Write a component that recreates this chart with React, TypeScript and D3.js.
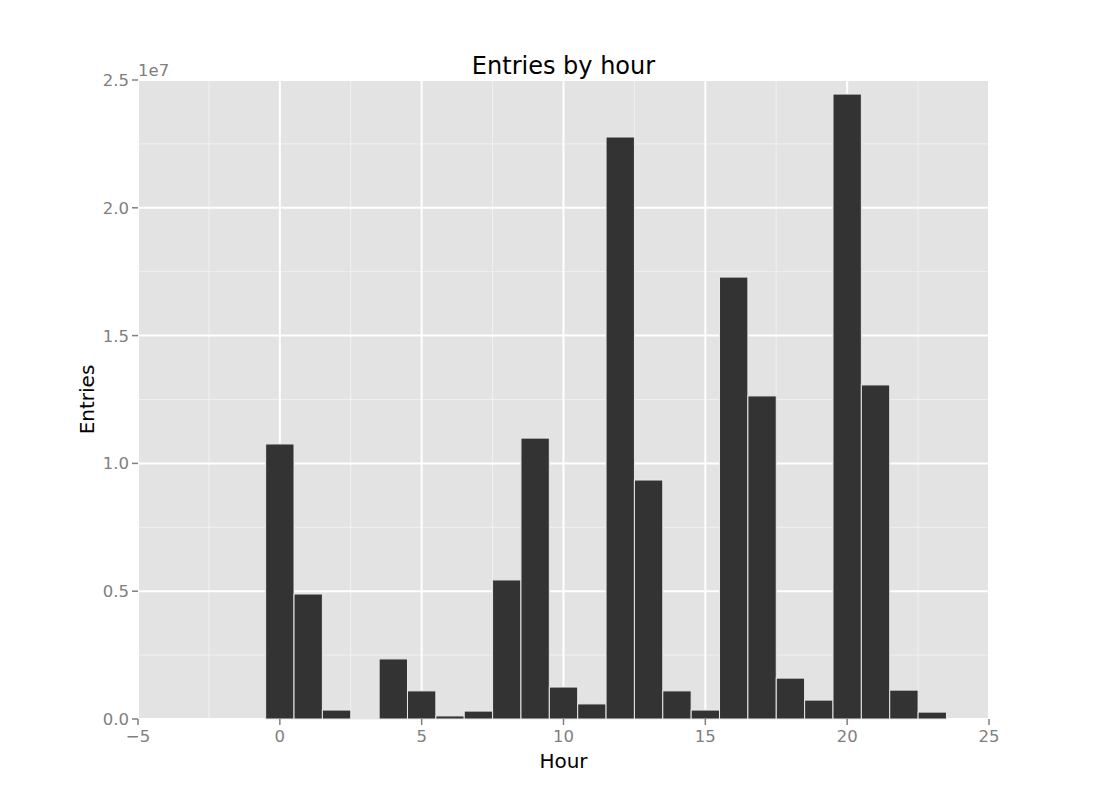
import React from "react";
import * as d3 from "d3";

const hours = [0,1,2,3,4,5,6,7,8,9,10,11,12,13,14,15,16,17,18,19,20,21,22,23];
const entries = [10760000,4890000,350000,40000,2350000,1100000,120000,310000,5440000,10990000,1250000,590000,22770000,9350000,1100000,350000,17290000,12640000,1600000,740000,24450000,13070000,1130000,270000];
const xTicks = [-5,0,5,10,15,20,25];
const yTicks = [0,5e6,1e7,1.5e7,2e7,2.5e7];
const yTickLabels = ["0.0","0.5","1.0","1.5","2.0","2.5"];

export default function App() {
  const W = 1100, H = 800;
  const left = 138, right = 989, top = 80, bottom = 719;
  const x = d3.scaleLinear().domain([-5, 25]).range([left, right]);
  const y = d3.scaleLinear().domain([0, 2.5e7]).range([bottom, top]);
  const xMinor = xTicks.slice(0, -1).map(t => t + 2.5);
  const yMinor = yTicks.slice(0, -1).map(t => t + 2.5e6);
  const font = "DejaVu Sans, sans-serif";
  return (
    <svg width={W} height={H} style={{ position: "absolute", left: 0, top: 0 }} fontFamily={font}>
      <rect x={0} y={0} width={W} height={H} fill="#fff" />
      <rect x={left} y={top} width={right - left} height={bottom - top} fill="#e3e3e3" />
      {xMinor.map(t => (
        <line key={"xm" + t} x1={x(t)} x2={x(t)} y1={top} y2={bottom} stroke="#f0f0f0" strokeWidth={1} />
      ))}
      {yMinor.map(t => (
        <line key={"ym" + t} x1={left} x2={right} y1={y(t)} y2={y(t)} stroke="#f0f0f0" strokeWidth={1} />
      ))}
      {xTicks.map(t => (
        <line key={"xg" + t} x1={x(t)} x2={x(t)} y1={top} y2={bottom} stroke="#fff" strokeWidth={2} />
      ))}
      {yTicks.map(t => (
        <line key={"yg" + t} x1={left} x2={right} y1={y(t)} y2={y(t)} stroke="#fff" strokeWidth={2} />
      ))}
      {hours.map((h, i) => (
        <rect key={"b" + h} x={x(h - 0.5)} y={y(entries[i])} width={x(h + 0.5) - x(h - 0.5)} height={bottom - y(entries[i])}
          fill="#333333" stroke="#e8e8e8" strokeWidth={1} />
      ))}
      {xTicks.map(t => (
        <g key={"xt" + t}>
          <line x1={x(t)} x2={x(t)} y1={bottom} y2={bottom + 6} stroke="#7f7f7f" strokeWidth={1.5} />
          <text x={x(t)} y={bottom + 23} textAnchor="middle" fontSize={16.5} fill="#7f7f7f">{t < 0 ? "\u2212" + Math.abs(t) : t}</text>
        </g>
      ))}
      {yTicks.map((t, i) => (
        <g key={"yt" + t}>
          <line x1={left - 6} x2={left} y1={y(t)} y2={y(t)} stroke="#7f7f7f" strokeWidth={1.5} />
          <text x={left - 9} y={y(t) + 6} textAnchor="end" fontSize={16.5} fill="#7f7f7f">{yTickLabels[i]}</text>
        </g>
      ))}
      <text x={left} y={top - 4} fontSize={16.5} fill="#7f7f7f">1e7</text>
      <text x={(left + right) / 2} y={74} textAnchor="middle" fontSize={24} fill="#000">Entries by hour</text>
      <text x={(left + right) / 2} y={768} textAnchor="middle" fontSize={20} fill="#000">Hour</text>
      <text transform={`translate(94,${(top + bottom) / 2}) rotate(-90)`} textAnchor="middle" fontSize={20} fill="#000">Entries</text>
    </svg>
  );
}
